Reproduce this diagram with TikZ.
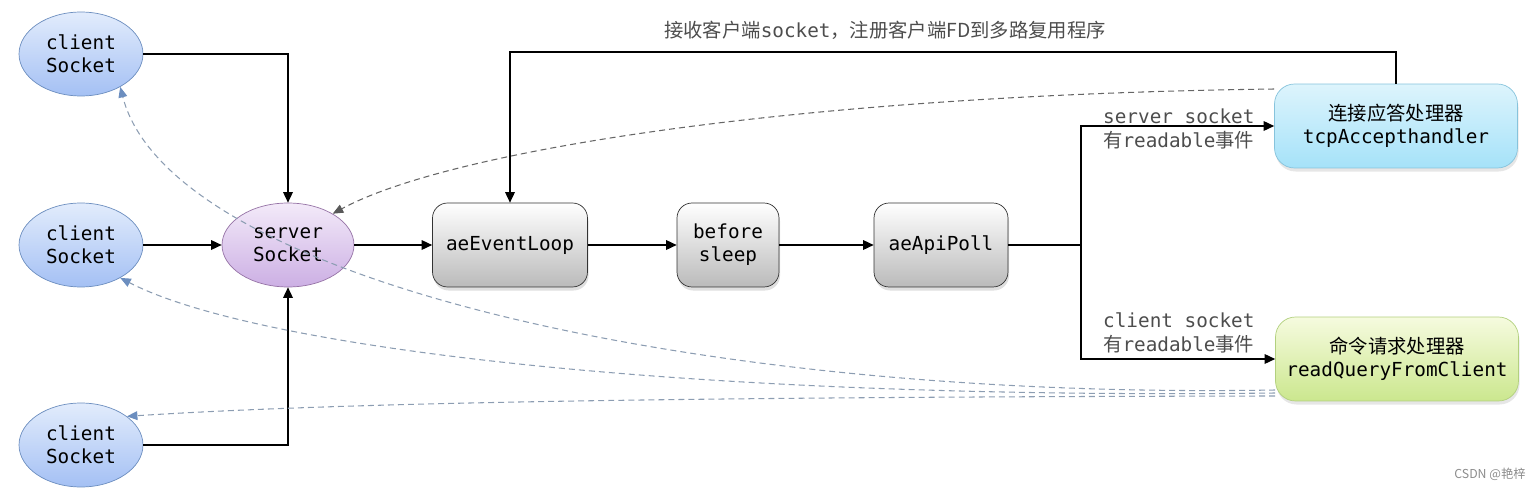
\documentclass[tikz,border=0pt]{standalone}
\usepackage{fontspec}
\setmonofont{DejaVu Sans Mono}
\newfontfamily\cjk{Noto Sans CJK SC}
\usetikzlibrary{positioning, arrows.meta, shapes.geometric, shadows}

\definecolor{sockline}{HTML}{6C8EBF}
\definecolor{socktop}{HTML}{E2ECFC}
\definecolor{sockbot}{HTML}{A4C0F4}
\definecolor{servline}{HTML}{9673A6}
\definecolor{servtop}{HTML}{F3EAF9}
\definecolor{servbot}{HTML}{CCAFE4}
\definecolor{accline}{HTML}{86C3DC}
\definecolor{acctop}{HTML}{DDF4FC}
\definecolor{accbot}{HTML}{A5E2F9}
\definecolor{qryline}{HTML}{B2D07E}
\definecolor{qrytop}{HTML}{F6FBDF}
\definecolor{qrybot}{HTML}{CBE78E}
\definecolor{dashblue}{HTML}{8C9DB2}
\definecolor{labelgray}{HTML}{4D4D4D}

\newcommand{\diafont}{\fontsize{11}{13.2}\selectfont\ttfamily}

\tikzset{
    sock/.style={
        ellipse,
        draw=sockline,
        top color=socktop,
        bottom color=sockbot,
        minimum width=2.48cm,
        minimum height=1.68cm,
        inner sep=0pt,
        align=center,
        font=\diafont
    },
    loopbox/.style={
        draw=black!80,
        rectangle,
        rounded corners=0.3cm,
        top color=white,
        bottom color=black!27,
        drop shadow={opacity=0.25, shadow xshift=0.6pt, shadow yshift=-2pt},
        minimum height=1.68cm,
        inner sep=0pt,
        align=center,
        font=\diafont
    },
    handler/.style={
        rectangle,
        rounded corners=0.4cm,
        minimum width=4.86cm,
        minimum height=1.68cm,
        drop shadow={opacity=0.2, shadow xshift=0.6pt, shadow yshift=-2pt},
        inner sep=0pt,
        align=center,
        font=\diafont
    },
    arr/.style={draw=black, line width=0.7pt, -{Triangle[length=6pt, width=5.5pt]}},
    back/.style={
        draw=dashblue,
        line width=0.6pt,
        dash pattern=on 3.4pt off 2.3pt,
        -{Triangle[length=6pt, width=5pt, color=sockline]}
    },
    note/.style={font=\diafont, text=labelgray, align=left}
}

\begin{document}
\begin{tikzpicture}[x=0.02cm, y=-0.02cm]
    \useasboundingbox (0,0) rectangle (1539,490);

    % sockets
    \node[sock] (cli1) at (81,54) {client\\Socket};
    \node[sock] (cli2) at (81,245) {client\\Socket};
    \node[sock] (cli3) at (81,445) {client\\Socket};
    \node[
        sock,
        draw=servline,
        top color=servtop,
        bottom color=servbot,
        minimum width=2.64cm
    ] (server) at (288,245) {server\\Socket};

    % event loop
    \node[loopbox, minimum width=3.1cm] (loop) at (510,245) {aeEventLoop};
    \node[loopbox, minimum width=2.04cm] (sleep) at (728,245) {before\\sleep};
    \node[loopbox, minimum width=2.68cm] (poll) at (941,245) {aeApiPoll};

    % handlers
    \node[
        handler,
        draw=accline,
        top color=acctop,
        bottom color=accbot
    ] (accept) at (1396,126) {{\cjk 连接应答处理器}\\tcpAccepthandler};
    \node[
        handler,
        draw=qryline,
        top color=qrytop,
        bottom color=qrybot
    ] (query) at (1397,359) {{\cjk 命令请求处理器}\\readQueryFromClient};

    \coordinate (split) at (1081,245);
    \coordinate (top) at (1396,52);

    \draw[arr] (cli1.east) -| (server.north);
    \draw[arr] (cli2.east) -- (server.west);
    \draw[arr] (cli3.east) -| (server.south);
    \draw[arr] (server.east) -- (loop.west);
    \draw[arr] (loop.east) -- (sleep.west);
    \draw[arr] (sleep.east) -- (poll.west);
    \draw[line width=0.7pt] (poll.east) -- (split);
    \draw[arr] (split) |- (accept.west);
    \draw[arr] (split) |- (query.west);
    \draw[arr] (accept.north) -- (top) -| (loop.north);

    \node[note, anchor=west] at (1097,129) {server socket\\{\cjk 有}readable{\cjk 事件}};
    \node[note, anchor=west] at (1097,333) {client socket\\{\cjk 有}readable{\cjk 事件}};
    \node[note] (title) at (885,30) {{\cjk 接收客户端}socket{\cjk ，注册客户端FD到多路复用程序}};

    % dashed returns
    \draw[
        back,
        draw=black!60,
        -{Triangle[length=6pt, width=5pt, color=black!65]}
    ] ([yshift=0.74cm]accept.west) .. controls (800,95) and (450,150) .. (server.35);
    \draw[back] ([yshift=-0.62cm]query.west) .. controls (700,400) and (170,280) .. (cli1.-40);
    \draw[back] ([yshift=-0.68cm]query.west) .. controls (700,400) and (260,350) .. (cli2.-40);
    \draw[back] ([yshift=-0.74cm]query.west) .. controls (700,397) and (350,402) .. (cli3.32);

    \node[font=\cjk\fontsize{7}{8}\selectfont, text=black!45] (mark) at (1490,474) {CSDN @艳梓};
\end{tikzpicture}
\end{document}
